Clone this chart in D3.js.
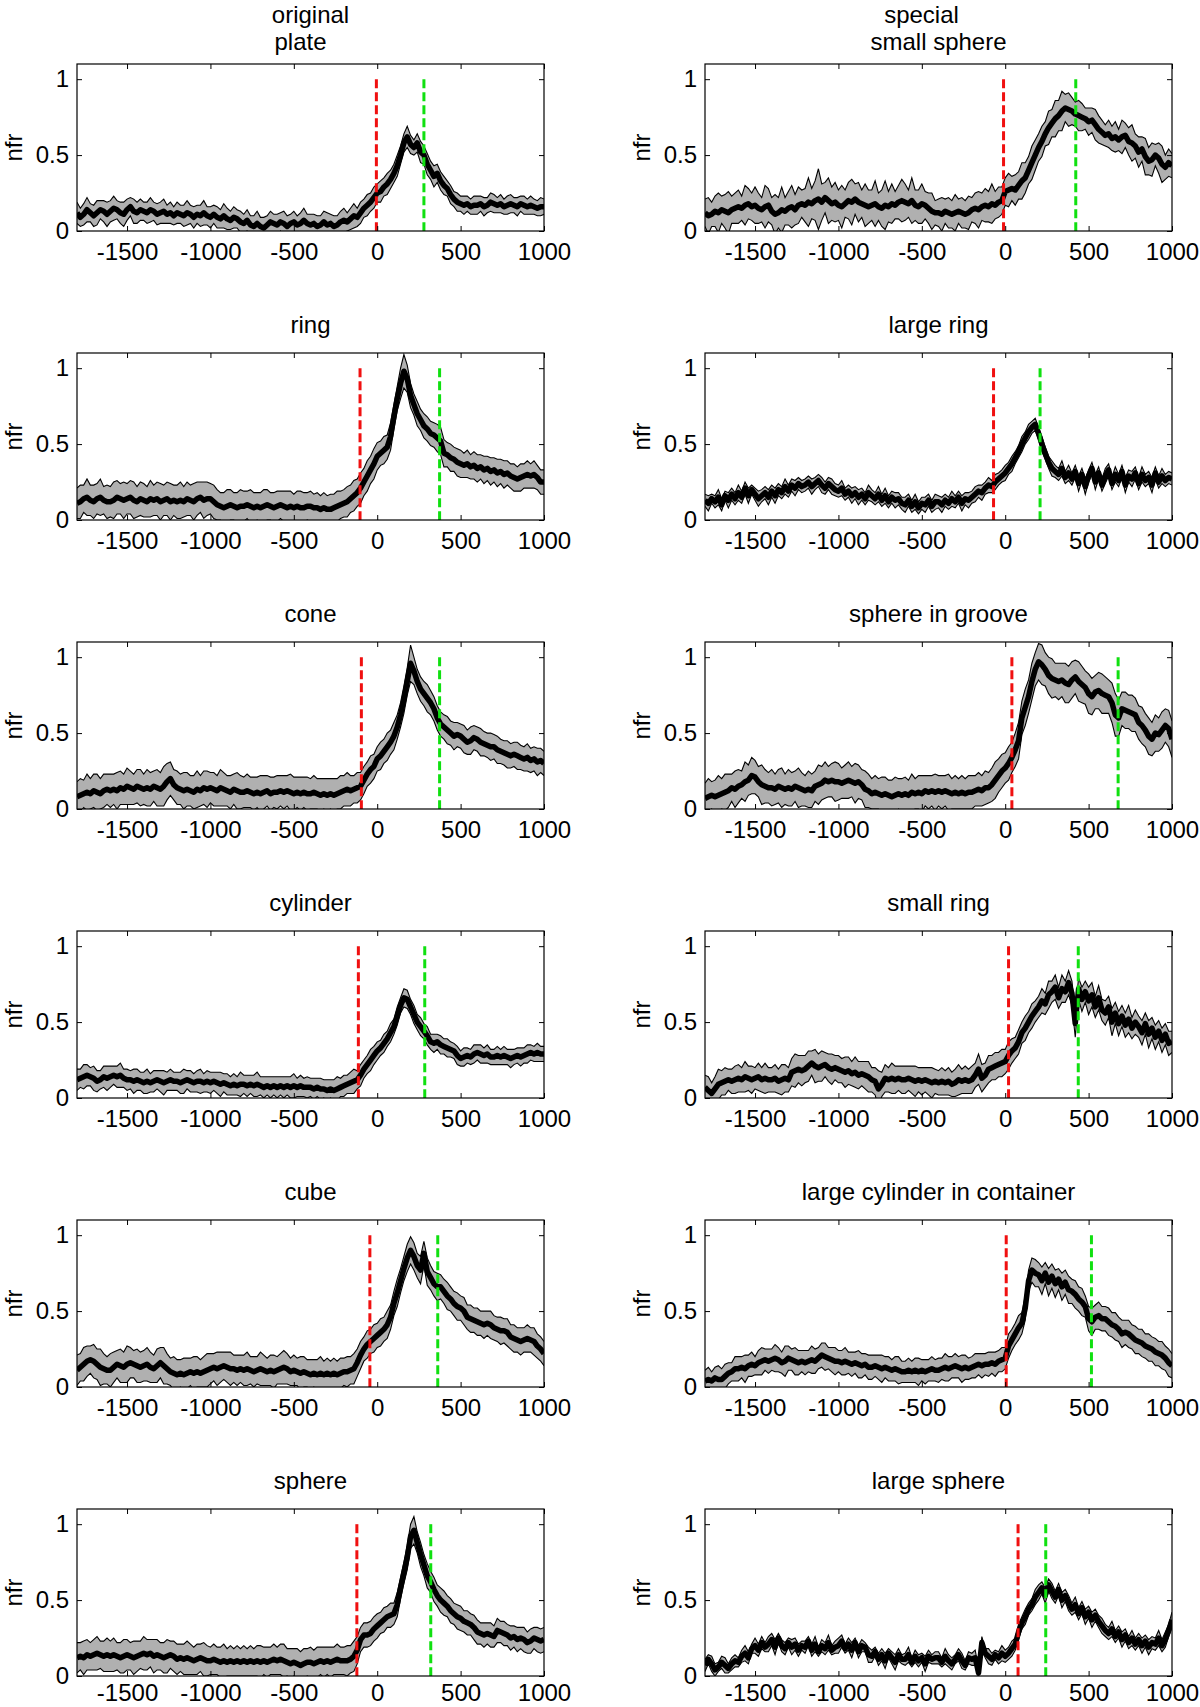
<!DOCTYPE html>
<html><head><meta charset="utf-8">
<script src="https://cdn.jsdelivr.net/npm/d3@7"></script>
<style>body{margin:0;background:#fff}</style>
</head><body>
<svg id="chart" width="1200" height="1707"></svg>
<script>
// time grid: -1800 .. 1000 ms, every 20 ms (141 samples)
const timeStart = -1800, timeStep = 20;
const xDomain = [-1800, 1000];
const yDomain = [0, 1.1];
const xTicks = [-1500, -1000, -500, 0, 500, 1000];
const yTicks = [0, 0.5, 1];
const yTickLabels = ["0", "0.5", "1"];
const yAxisLabel = "nfr";

const titles = [["original", "plate"], ["special", "small sphere"], ["ring"], ["large ring"], ["cone"], ["sphere in groove"],
  ["cylinder"], ["small ring"], ["cube"], ["large cylinder in container"], ["sphere"], ["large sphere"]];
const redMarkers = [-5, -10, -103, -70, -95, 40, -113, 20, -44, 6, -122, 77];
const greenMarkers = [280, 423, 374, 209, 374, 677, 285, 438, 363, 517, 321, 243];

// mean firing rate (x 0.01)
const meanPlate = [12,9,11,14,12,10,12,14,13,11, 13,15,14,12,11,14,16,13,12,14, 13,12,14,13,11,12,13,11,12,10, 12,11,10,12,11,9,11,10,12,10, 9,11,9,8,10,8,7,9,8,6, 5,7,4,3,5,3,2,4,6,5, 4,6,5,3,5,6,4,5,7,5, 4,5,3,4,6,4,5,3,4,6, 7,6,8,10,9,12,15,17,19,22, 25,26,29,31,34,38,43,50,58,62, 57,55,58,52,50,44,40,36,38,33, 30,28,24,21,19,18,17,18,16,17, 17,18,16,17,19,18,17,18,16,17, 18,17,16,18,17,16,17,16,15,16, 16];
const semPlate = [7,6,7,8,6,7,8,6,7,8, 7,8,6,7,8,7,6,8,7,7, 6,7,8,6,7,7,8,6,7,6, 7,6,7,8,6,7,6,7,8,6, 7,6,7,6,8,7,6,7,6,7, 6,7,6,7,8,6,7,6,7,6, 7,6,8,7,6,7,6,7,8,6, 7,6,7,6,7,8,6,7,6,7, 8,6,7,8,6,7,6,7,6,7, 6,7,6,7,6,6,7,6,6,7, 6,5,6,7,6,7,6,7,6,6, 6,5,6,5,6,5,6,5,5,6, 6,5,6,5,6,6,5,6,5,6, 6,5,6,5,6,5,6,5,5,6, 5];

const meanSmallSphere = [12,10,11,13,12,14,13,12,14,15, 16,15,17,18,16,17,15,14,16,17, 13,11,12,14,13,15,16,14,17,18, 17,19,18,20,21,19,22,20,18,19, 17,16,18,20,19,21,19,18,17,16, 17,18,16,15,17,16,18,17,19,20, 19,18,20,17,16,18,17,15,13,12, 12,11,13,12,11,12,13,12,11,12, 14,15,14,16,17,16,18,17,19,20, 26,27,28,27,30,33,35,40,45,50, 55,59,64,68,71,74,76,79,81,80, 79,77,76,75,74,72,73,70,67,65, 63,64,61,62,60,62,63,59,58,56, 52,54,49,46,47,50,48,44,42,45, 43];
const semSmallSphere = [9,12,8,10,13,9,11,14,9,10, 11,8,13,10,9,12,10,8,14,11, 9,13,10,15,9,11,14,10,12,9, 11,16,10,13,20,12,10,15,11,13, 10,14,9,12,15,10,13,9,14,11, 10,15,9,12,16,10,13,9,11,14, 12,9,15,10,11,13,9,10,12,8, 9,11,8,10,9,12,8,10,9,11, 8,10,12,9,11,10,13,9,10,9, 9,11,8,10,9,12,10,9,11,10, 9,10,8,11,9,12,10,13,9,11, 9,8,10,9,7,9,8,10,9,8, 7,9,8,10,7,11,8,9,12,8, 10,8,12,9,11,7,10,12,8,9, 8];

const meanRing = [11,12,14,15,13,12,14,15,13,12, 12,13,15,14,13,14,15,13,12,14, 13,12,14,13,14,12,13,14,12,13, 12,13,12,14,13,12,14,15,13,14, 14,12,10,9,8,9,10,9,8,9, 9,10,9,8,9,8,9,10,9,8, 9,10,9,8,9,8,9,8,8,9, 9,8,8,7,8,7,7,8,9,10, 11,12,14,16,18,21,25,29,33,37, 42,44,46,48,55,68,80,90,98,93, 82,76,70,66,62,60,57,56,54,52, 44,43,41,40,38,37,36,37,35,36, 34,35,33,34,32,33,31,32,30,31, 29,28,27,28,29,30,29,30,28,25, 25];
const semRing = [10,11,9,12,10,11,10,12,9,11, 10,12,11,10,12,10,11,12,10,11, 11,10,12,10,11,12,10,11,12,10, 11,12,10,11,10,12,11,10,12,11, 10,11,10,9,10,11,10,9,10,11, 10,9,11,10,9,10,11,10,9,10, 10,9,10,11,10,9,10,11,10,9, 10,9,10,9,10,9,10,9,10,9, 9,10,9,10,9,10,9,10,9,10, 9,8,9,8,9,8,8,10,11,9, 8,7,8,7,8,8,8,8,9,9, 9,8,9,8,9,9,8,9,8,9, 9,8,9,8,9,8,9,8,9,8, 8,9,8,9,8,9,8,9,8,8, 8];

const meanLargeRing = [13,11,14,12,15,10,16,13,17,14, 18,15,21,16,20,17,14,16,18,15, 19,16,20,18,22,19,23,21,24,22, 23,25,22,24,26,23,21,24,22,20, 19,21,17,19,16,18,15,17,14,18, 16,14,17,13,16,12,15,13,14,11, 10,13,9,12,8,11,10,13,9,12, 12,10,13,11,14,12,15,11,14,13, 15,17,19,18,21,23,22,25,27,29, 31,34,37,41,45,50,54,58,61,63, 57,50,44,38,34,32,30,34,28,31, 27,32,24,30,22,29,34,25,31,23, 29,33,24,30,26,32,23,29,27,31, 24,30,26,28,23,31,25,29,26,28, 27];
const semLargeRing = [4,5,3,4,5,4,3,5,4,4, 5,4,4,5,3,4,5,4,4,5, 4,5,4,4,5,4,4,5,4,4, 4,4,5,4,4,5,4,4,5,4, 4,5,4,4,5,4,5,4,4,5, 4,4,5,4,5,4,4,5,4,4, 5,4,4,5,4,4,5,4,4,5, 4,5,4,4,5,4,4,5,4,5, 4,5,4,5,4,5,4,5,4,4, 5,4,5,4,4,5,4,5,4,4, 4,5,4,4,5,4,4,5,4,5, 4,4,5,4,5,4,4,5,4,4, 5,4,4,5,4,4,5,4,5,4, 4,5,4,4,5,4,4,5,4,4, 4];

const meanCone = [8,9,10,11,10,12,11,10,12,13, 12,13,12,14,13,15,14,13,15,14, 13,14,13,15,14,13,15,18,20,16, 14,13,12,13,12,11,13,12,14,13, 14,13,12,14,13,12,11,13,12,11, 11,12,11,10,11,10,11,12,10,11, 11,12,11,12,11,10,11,10,11,10, 10,11,10,9,10,9,10,9,10,11, 12,13,12,13,14,15,19,23,26,28, 33,35,38,41,44,48,54,62,72,84, 96,91,84,79,76,73,70,66,60,56, 54,52,50,48,49,48,46,44,45,47, 46,44,43,42,41,41,39,38,37,36, 35,36,35,34,33,34,32,33,31,32, 30];
const semCone = [10,11,9,12,10,11,12,10,11,10, 11,10,12,11,10,12,11,10,11,12, 10,12,11,10,12,11,13,12,11,10, 11,10,12,11,10,11,12,10,11,12, 10,11,10,12,11,10,11,10,12,11, 10,11,10,11,10,12,11,10,11,10, 11,10,11,10,12,11,10,11,10,11, 10,11,10,11,10,11,10,11,10,11, 10,11,10,9,10,9,9,8,9,8, 8,9,8,9,8,9,8,8,9,9, 12,9,8,8,8,9,8,8,8,8, 8,9,8,9,8,8,9,8,9,8, 8,9,8,8,9,8,9,8,8,9, 8,8,9,8,8,9,8,8,9,8, 8];

const meanSphereInGroove = [7,8,9,8,9,10,11,12,14,13, 15,16,18,19,22,21,18,16,15,14, 14,13,15,14,13,14,13,15,14,13, 12,13,12,15,16,17,19,18,19,18, 18,17,18,19,18,17,18,16,13,12, 10,11,10,9,10,9,8,9,10,9, 10,9,11,10,11,10,12,11,12,11, 12,11,12,11,10,11,10,11,10,11, 11,12,13,12,14,14,16,19,22,25, 27,30,34,39,45,60,67,74,84,92, 97,95,92,88,86,85,84,85,83,82, 85,87,84,82,80,76,74,77,78,76, 75,74,70,62,60,66,65,64,63,62, 57,55,52,48,46,50,49,52,55,53, 46];
const semSphereInGroove = [10,12,9,11,13,10,12,11,9,12, 11,9,13,10,12,11,10,13,11,10, 12,10,11,13,10,12,11,10,13,11, 10,12,11,10,13,11,12,10,11,13, 12,10,11,12,10,13,11,10,12,11, 10,11,10,12,11,10,11,12,10,11, 11,10,12,10,11,12,10,11,10,12, 10,11,10,12,10,11,10,11,10,11, 11,10,11,10,11,10,11,12,11,11, 10,11,10,11,12,11,12,11,12,11, 12,13,11,12,13,11,12,11,13,12, 12,11,13,12,11,13,12,11,12,13, 12,11,13,14,12,11,12,11,12,11, 11,12,11,12,11,12,11,12,11,12, 12];

const meanCylinder = [12,13,14,15,14,13,11,12,14,13, 14,15,14,15,13,12,12,11,12,11, 10,11,10,11,12,11,10,11,12,11, 11,10,11,12,11,10,11,11,10,11, 10,11,10,9,10,9,8,9,8,9, 9,8,9,8,9,8,7,8,7,8, 7,8,7,8,7,8,7,8,7,7, 7,6,7,6,6,5,6,5,6,7, 8,9,10,11,12,15,19,22,25,28, 31,33,36,39,43,47,54,61,66,65, 60,55,50,47,44,41,37,36,37,35, 34,33,32,31,28,26,27,28,27,29, 30,29,28,29,27,27,28,27,28,27, 26,27,28,27,28,29,30,29,30,29, 29];
const semCylinder = [7,6,8,7,6,8,7,6,7,8, 7,6,7,8,6,7,6,8,7,6, 7,8,6,7,6,7,8,6,7,6, 6,7,8,6,7,6,7,8,6,7, 7,6,7,8,6,7,6,7,6,8, 6,7,6,7,8,6,7,6,7,6, 7,6,7,6,7,8,6,7,6,7, 6,7,6,7,6,7,6,7,8,6, 7,6,7,8,6,7,6,6,7,6, 6,5,6,5,6,5,6,5,6,6, 5,6,5,6,5,6,5,6,5,6, 5,6,5,5,6,5,6,5,5,6, 5,6,5,6,5,5,6,5,6,5, 6,5,5,6,5,6,5,5,6,5, 5];

const meanSmallRing = [7,5,3,6,9,10,11,12,11,12, 13,12,14,13,12,13,14,12,13,12, 12,13,11,12,13,12,17,18,19,18, 19,21,23,21,20,21,22,20,19,20, 19,18,17,18,16,17,15,16,15,14, 12,11,6,9,13,12,13,12,13,12, 12,13,12,11,12,11,12,11,10,11, 10,11,10,11,9,10,12,11,12,11, 12,15,19,13,15,19,20,21,22,23, 24,28,31,33,37,43,46,50,54,57, 60,64,62,68,70,73,66,72,70,76, 69,49,72,65,70,64,68,60,66,58, 56,60,50,56,49,54,48,52,46,50, 47,43,49,42,46,40,44,38,42,36, 37];
const semSmallRing = [8,9,7,8,10,8,9,7,8,9, 9,8,10,8,9,7,9,8,10,8, 8,9,8,10,9,8,9,11,9,10, 9,10,8,11,9,10,8,9,10,8, 9,8,10,9,8,10,9,8,9,10, 8,9,12,8,9,8,10,9,8,9, 9,8,9,10,8,9,8,9,10,8, 8,9,8,9,8,9,10,8,9,8, 9,8,10,9,8,9,8,9,8,9, 8,9,8,7,8,7,8,7,8,7, 7,8,7,9,7,8,7,9,7,8, 8,9,7,8,7,9,8,7,8,7, 8,7,9,7,8,7,8,9,7,8, 7,8,7,9,7,8,7,8,7,8, 7];

const meanCube = [11,13,15,17,18,17,15,13,12,11, 11,13,15,14,13,15,16,15,14,13, 14,15,13,12,14,16,14,12,10,9, 8,9,8,9,10,9,10,9,10,11, 12,13,12,13,14,13,12,12,11,12, 11,12,11,10,11,12,11,10,11,10, 11,12,13,12,10,11,10,9,10,9, 8,9,8,9,8,9,8,9,8,9, 10,10,11,12,16,21,25,28,30,32, 34,36,38,41,46,55,62,70,78,85, 90,86,80,77,88,76,72,68,66,66, 63,60,58,55,53,52,50,46,45,44, 43,42,41,42,41,39,38,37,37,36, 33,32,31,30,31,32,31,30,27,25, 22];
const semCube = [10,9,11,10,9,11,10,12,10,9, 11,10,9,11,10,12,10,9,11,10, 10,11,10,9,11,10,12,10,9,11, 10,9,11,10,9,11,10,9,10,11, 10,9,11,10,9,10,11,9,10,9, 10,11,9,10,9,11,10,9,10,11, 9,10,11,10,9,10,9,11,10,9, 10,9,10,11,9,10,9,10,9,10, 9,10,9,10,9,9,8,9,8,9, 8,9,8,9,8,8,9,8,8,9, 9,9,8,9,8,9,8,8,9,8, 8,9,8,8,9,8,9,8,9,8, 9,8,9,8,9,8,8,9,8,9, 8,9,8,9,8,9,8,9,8,8, 8];

const meanLargeCylinder = [4,5,4,6,5,5,7,9,10,12, 12,13,12,14,15,14,16,17,18,17, 18,19,18,16,17,19,18,17,16,17, 16,17,18,17,19,21,20,19,18,17, 17,16,17,16,15,16,15,14,15,13, 13,14,13,12,13,12,11,12,11,10, 10,11,10,11,10,11,10,11,12,11, 11,12,13,12,13,14,13,12,13,12, 13,14,15,14,15,15,16,15,17,18, 19,27,31,35,39,42,52,70,77,75, 74,70,75,69,73,68,71,66,69,64, 63,61,58,56,53,45,43,46,47,45, 45,43,41,40,38,35,36,35,33,31, 30,29,27,26,25,23,22,21,19,16, 14];
const semLargeCylinder = [7,8,6,7,9,7,8,7,6,8, 8,7,9,7,8,6,8,9,7,8, 7,9,8,7,10,8,7,9,8,7, 8,7,9,8,7,8,9,7,8,9, 7,8,9,7,8,7,9,8,7,8, 8,7,8,9,7,8,7,8,9,7, 7,8,7,8,9,7,8,7,8,7, 8,7,9,8,7,8,7,9,8,7, 7,8,7,8,7,8,7,8,7,8, 7,8,7,7,8,7,8,7,8,9, 8,9,7,9,8,9,7,9,8,9, 8,9,8,9,7,8,9,8,9,8, 8,9,8,9,8,9,8,9,8,9, 8,9,8,9,8,9,8,9,8,9, 8];

const meanSphere = [12,13,12,14,13,14,15,14,13,14, 13,14,13,12,13,14,13,12,13,14, 15,14,15,13,14,13,12,13,14,13, 11,12,11,12,11,10,11,12,11,10, 10,11,10,9,10,9,10,9,10,9, 10,9,10,9,10,9,10,9,10,11, 10,11,10,9,8,9,8,7,8,9, 9,8,9,10,9,10,9,10,11,10, 10,10,11,13,17,24,27,27,28,31, 33,35,37,39,40,41,47,58,68,78, 92,96,88,80,73,66,62,57,53,50, 48,46,43,41,39,38,36,35,34,32, 29,28,27,28,27,26,30,29,28,27, 25,26,24,25,24,22,23,25,24,23, 24];
const semSphere = [10,9,11,10,9,10,11,9,10,11, 10,11,9,10,11,10,9,11,10,9, 11,10,9,11,10,9,10,11,9,10, 10,9,10,11,10,9,10,9,11,10, 9,10,9,10,11,9,10,9,10,9, 10,9,10,9,10,11,9,10,9,10, 9,10,11,9,10,9,10,9,10,9, 10,9,10,9,10,9,10,9,10,9, 9,10,9,10,9,8,8,8,8,8, 8,7,8,7,8,7,8,7,7,8, 8,9,7,8,7,8,7,8,7,8, 8,7,8,7,8,8,7,8,7,8, 8,7,8,7,8,7,8,7,8,7, 8,7,8,7,8,7,8,7,8,8, 8];

const meanLargeSphere = [7,11,8,4,6,9,7,5,8,10, 9,13,15,12,18,20,17,22,19,21, 24,19,25,20,18,22,19,21,17,20, 19,23,17,21,16,20,18,22,17,19, 20,23,18,21,17,22,16,20,19,14, 13,16,11,14,10,15,12,9,14,11, 11,14,9,13,10,12,8,13,11,12, 12,9,13,10,8,11,14,10,7,12, 11,12,2,22,15,13,11,14,12,15, 13,15,18,21,29,35,39,44,47,52, 55,58,53,60,56,52,57,50,53,48, 44,47,41,45,39,42,37,40,36,33, 30,28,31,26,29,24,27,22,25,21, 24,20,23,19,22,21,25,20,24,30, 37];
const semLargeSphere = [4,3,5,4,3,4,5,3,4,4, 3,4,5,4,3,5,4,4,3,5, 4,5,3,4,4,3,5,4,4,3, 4,3,4,5,3,4,4,5,3,4, 5,4,3,4,5,3,4,4,3,5, 4,3,4,4,5,3,4,5,4,3, 4,5,3,4,4,3,5,4,3,4, 4,3,5,4,4,3,4,5,3,4, 4,5,3,4,3,5,4,3,4,5, 4,4,5,4,5,4,5,4,4,5, 5,4,5,4,5,4,4,5,4,5, 4,5,4,4,5,4,5,4,4,5, 4,4,5,4,4,5,4,4,5,4, 4,5,4,5,4,4,5,4,5,4, 5];

const meanSeries = [meanPlate, meanSmallSphere, meanRing, meanLargeRing, meanCone, meanSphereInGroove,
  meanCylinder, meanSmallRing, meanCube, meanLargeCylinder, meanSphere, meanLargeSphere];
const semSeries = [semPlate, semSmallSphere, semRing, semLargeRing, semCone, semSphereInGroove,
  semCylinder, semSmallRing, semCube, semLargeCylinder, semSphere, semLargeSphere];

// ---------- layout ----------
const FONT = "'Liberation Sans', Arial, Helvetica, sans-serif";
const FS = 24;
const colLeft = [77, 705];
const rowTop0 = 64, rowStep = 289;
const plotW = 467, plotH = 167;
const nRows = 6;
const titleLineDx = {0: [0, -10], 1: [-17, 0]};

const svg = d3.select("#chart");
svg.append("rect").attr("width", 1200).attr("height", 1707).attr("fill", "#fff");
const defs = svg.append("defs");

meanSeries.forEach((meanArr, i) => {
  const semArr = semSeries[i];
  const col = i % 2, row = Math.floor(i / 2);
  const left = colLeft[col], top = rowTop0 + row * rowStep;
  const x = d3.scaleLinear().domain(xDomain).range([left, left + plotW]);
  const y = d3.scaleLinear().domain(yDomain).range([top + plotH, top]);

  const pts = meanArr.map((m, k) => ({t: timeStart + k * timeStep, m: m / 100, s: semArr[k] / 100}));

  defs.append("clipPath").attr("id", "clip" + i)
    .append("rect").attr("x", left).attr("y", top).attr("width", plotW).attr("height", plotH);

  const g = svg.append("g");
  const pg = g.append("g").attr("clip-path", `url(#clip${i})`);

  pg.append("path").datum(pts)
    .attr("d", d3.area().x(d => x(d.t)).y0(d => y(d.m - d.s)).y1(d => y(d.m + d.s)))
    .attr("fill", "#b0b0b0").attr("stroke", "none");
  [1, -1].forEach(sign => {
    pg.append("path").datum(pts)
      .attr("d", d3.line().x(d => x(d.t)).y(d => y(d.m + sign * d.s)))
      .attr("fill", "none").attr("stroke", "#000").attr("stroke-width", 1.1);
  });
  pg.append("path").datum(pts)
    .attr("d", d3.line().x(d => x(d.t)).y(d => y(d.m)))
    .attr("fill", "none").attr("stroke", "#000").attr("stroke-width", 5.5)
    .attr("stroke-linejoin", "round");

  [[redMarkers[i], "#f01010"], [greenMarkers[i], "#10e010"]].forEach(([v, c]) => {
    g.append("line").attr("x1", x(v)).attr("x2", x(v)).attr("y1", y(1)).attr("y2", y(0))
      .attr("stroke", c).attr("stroke-width", 3).attr("stroke-dasharray", "9,4");
  });

  // axes
  const pad = row === nRows - 1 ? 8 : 12;
  const ax = d3.axisBottom(x).tickValues(xTicks).tickSize(-5).tickPadding(pad).tickFormat(d => String(d));
  const axB = g.append("g").attr("transform", `translate(0,${top + plotH})`).call(ax);
  const axT = g.append("g").attr("transform", `translate(0,${top})`)
    .call(d3.axisTop(x).tickValues(xTicks).tickSize(-5).tickFormat(""));
  const axL = g.append("g").attr("transform", `translate(${left},0)`)
    .call(d3.axisLeft(y).tickValues(yTicks).tickSize(-5).tickPadding(8).tickFormat((d, k) => yTickLabels[k]));
  const axR = g.append("g").attr("transform", `translate(${left + plotW},0)`)
    .call(d3.axisRight(y).tickValues(yTicks).tickSize(-5).tickFormat(""));
  [axB, axT, axL, axR].forEach(a => {
    a.select(".domain").remove();
    a.selectAll("line").attr("stroke", "#000").attr("stroke-width", 1);
    a.selectAll("text").attr("font-family", FONT).attr("font-size", FS).attr("fill", "#000");
  });

  g.append("rect").attr("x", left).attr("y", top).attr("width", plotW).attr("height", plotH)
    .attr("fill", "none").attr("stroke", "#000").attr("stroke-width", 1.2);

  // y label
  g.append("text").attr("transform", `translate(${left - 64},${top + plotH / 2}) rotate(-90)`)
    .attr("text-anchor", "middle").attr("dominant-baseline", "central")
    .attr("font-family", FONT).attr("font-size", FS).text(yAxisLabel);

  // title
  const lines = titles[i];
  const dx = titleLineDx[i] || [0, 0];
  const lastBaseline = lines.length > 1 ? top - 14 : top - 20;
  const lineGap = 27;
  lines.forEach((ln, k) => {
    const baseline = lastBaseline - (lines.length - 1 - k) * lineGap;
    g.append("text").attr("x", left + plotW / 2 + dx[k]).attr("y", baseline)
      .attr("text-anchor", "middle").attr("font-family", FONT).attr("font-size", FS).text(ln);
  });
});
</script>
</body></html>
